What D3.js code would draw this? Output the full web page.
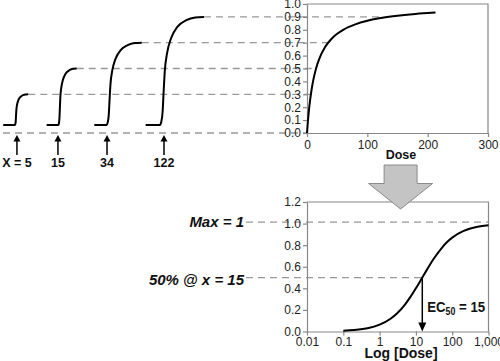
<!DOCTYPE html>
<html><head><meta charset="utf-8">
<script src="https://cdn.jsdelivr.net/npm/d3@7/dist/d3.min.js"></script>
<style>
body{margin:0;background:#fff;}
svg{display:block;font-family:"Liberation Sans",Arial,sans-serif;}
</style></head><body>
<svg id="c" width="500" height="361"></svg>
<script>
// ---- data ----
const topDose = [0,1,2,3,5,7,10,15,20,30,40,50,60,80,100,125,150,175,200,213];
const topResp = [0,0.062,0.118,0.167,0.25,0.318,0.4,0.5,0.571,0.667,0.727,0.769,0.8,0.842,0.87,0.893,0.909,0.921,0.93,0.934];
const topXTicks = [0,100,200,300];
const topYTicks = [0,0.1,0.2,0.3,0.4,0.5,0.6,0.7,0.8,0.9,1.0];

const logDose = [0.1,0.2,0.5,1,2,3,5,7,10,15,20,30,50,70,100,200,300,500,1000];
const logResp = [0.007,0.013,0.032,0.063,0.118,0.167,0.25,0.318,0.4,0.5,0.571,0.667,0.769,0.824,0.87,0.93,0.952,0.971,0.985];
const logXTicks = [0.01,0.1,1,10,100,1000];
const logXLabels = ["0.01","0.1","1","10","100","1,000"];
const logYTicks = [0,0.2,0.4,0.6,0.8,1.0,1.2];

// small time-course curves (panel time units)
const smallLabels = ["X = 5","15","34","122"];
const smallDose   = [5,15,34,122];
const smallLevel  = [0.3,0.5,0.7,0.9];
const smallStart  = [0.1,21.6,45.2,70.6];
const smallCorner = [5.9,27.4,51.3,77.7];
const smallEnd    = [12.5,36.5,68.7,99.5];
const smallArrow  = [6.9,27.2,51.5,79.7];
const smallBase = 0.062;
// normalized rise shape
const riseU = [0,0.03,0.06,0.085,0.11,0.16,0.25,0.4,0.6,0.8,1];
const riseV = [0,0.03,0.12,0.32,0.5,0.66,0.8,0.91,0.97,0.995,1];

const maxValue = 1.0, ec50 = 15, halfValue = 0.5;

// ---- drawing ----
const svg = d3.select("#c");
const gray = "#999";
const dash = "7,5";
const FONT = "'Liberation Sans',Arial,sans-serif";

// top chart scales
const x1 = d3.scaleLinear().domain([0,300]).range([307,488]);
const y1 = d3.scaleLinear().domain([0,1]).range([133,4]);
// left panel time scale
const tS = d3.scaleLinear().domain([0,100]).range([3,205]);
// bottom chart
const x2 = d3.scaleLog().domain([0.01,1000]).range([307,488.5]);
const y2 = d3.scaleLinear().domain([0,1.2]).range([331.5,202]);

function styleAxis(g){
  g.attr("font-size",12).attr("font-family",FONT);
  g.selectAll("path,line").attr("stroke","#888").attr("stroke-width",1.2);
  g.selectAll("text").attr("fill","#222");
}

// dashed guides (top)
const guides = svg.append("g").attr("stroke",gray).attr("stroke-width",1.3).attr("stroke-dasharray",dash).attr("fill","none");
guides.append("line").attr("x1",tS(0)).attr("x2",x1(0)).attr("y1",y1(0)).attr("y2",y1(0));
smallLevel.forEach((lv,i)=>{
  guides.append("line").attr("x1",tS(smallEnd[i])).attr("x2",x1(smallDose[i])).attr("y1",y1(lv)).attr("y2",y1(lv));
});
// dashed guides (bottom)
guides.append("line").attr("x1",246).attr("x2",x2(1000)).attr("y1",y2(maxValue)-1.5).attr("y2",y2(maxValue)-1.5);
guides.append("line").attr("x1",246).attr("x2",x2(ec50)).attr("y1",y2(halfValue)).attr("y2",y2(halfValue));

// axes top
svg.append("g").attr("transform",`translate(0,${y1(0)})`)
  .call(d3.axisBottom(x1).tickValues(topXTicks).tickSize(4).tickPadding(3).tickSizeOuter(0)).call(styleAxis);
svg.append("g").attr("transform",`translate(${x1(0)},0)`)
  .call(d3.axisLeft(y1).tickValues(topYTicks).tickFormat(d3.format(".1f")).tickSize(4).tickPadding(2).tickSizeOuter(0)).call(styleAxis);
svg.append("path").attr("d",`M${x1(0)},${y1(1)}H${x1(300)}V${y1(0)}`).attr("fill","none").attr("stroke","#888").attr("stroke-width",1.2);

// axes bottom
svg.append("g").attr("transform",`translate(0,${y2(0)})`)
  .call(d3.axisBottom(x2).tickValues(logXTicks).tickFormat((d,i)=>logXLabels[i]).tickSize(4).tickPadding(2).tickSizeOuter(0)).call(styleAxis);
svg.append("g").attr("transform",`translate(${x2(0.01)},0)`)
  .call(d3.axisLeft(y2).tickValues(logYTicks).tickFormat(d3.format(".1f")).tickSize(4).tickPadding(2).tickSizeOuter(0)).call(styleAxis);
svg.append("path").attr("d",`M${x2(0.01)},${y2(1.2)}H${x2(1000)}V${y2(0)}`).attr("fill","none").attr("stroke","#888").attr("stroke-width",1.2);

// top curve
const line1 = d3.line().x((d,i)=>x1(topDose[i])).y((d,i)=>y1(topResp[i])).curve(d3.curveMonotoneX);
svg.append("path").attr("d",line1(topDose)).attr("fill","none").attr("stroke","#000").attr("stroke-width",2);

// bottom curve
const line2 = d3.line().x((d,i)=>x2(logDose[i])).y((d,i)=>y2(logResp[i])).curve(d3.curveMonotoneX);
svg.append("path").attr("d",line2(logDose)).attr("fill","none").attr("stroke","#000").attr("stroke-width",2);

// small curves
const sLine = d3.line().x(d=>d[0]).y(d=>d[1]).curve(d3.curveMonotoneX);
smallLevel.forEach((lv,i)=>{
  const pts = [[tS(smallStart[i]),y1(smallBase)]];
  riseU.forEach((u,j)=>{
    pts.push([tS(smallCorner[i]+u*(smallEnd[i]-smallCorner[i])), y1(smallBase+(lv-smallBase)*riseV[j])]);
  });
  svg.append("path").attr("d",sLine(pts)).attr("fill","none").attr("stroke","#000").attr("stroke-width",2);
  const ax = tS(smallArrow[i]);
  svg.append("line").attr("x1",ax).attr("x2",ax).attr("y1",155).attr("y2",139).attr("stroke","#000").attr("stroke-width",1.5);
  svg.append("path").attr("d",`M${ax},135L${ax-3.5},141.5L${ax+3.5},141.5Z`).attr("fill","#000");
  svg.append("text").attr("x",ax).attr("y",167).attr("text-anchor","middle")
    .attr("font-size",12.5).attr("font-weight","bold").attr("fill","#111").text(smallLabels[i]);
});

// axis titles
svg.append("text").attr("x",401).attr("y",159).attr("text-anchor","middle").attr("font-size",12.5).attr("font-weight","bold").attr("fill","#111").text("Dose");
svg.append("text").attr("x",401).attr("y",358).attr("text-anchor","middle").attr("font-size",14).attr("font-weight","bold").attr("fill","#111").text("Log [Dose]");

// big gray arrow
const cx = 400.6;
svg.append("path").attr("d",`M${cx-16.5},165H${cx+16.5}V183.5H${cx+32}L${cx},209L${cx-32},183.5H${cx-16.5}Z`)
  .attr("fill","#c4c4c4").attr("stroke","#8a8a8a").attr("stroke-width",1);

// italic annotations
svg.append("text").attr("x",244).attr("y",227).attr("text-anchor","end").attr("font-size",15).attr("font-weight","bold").attr("font-style","italic").attr("fill","#111").text("Max = 1");
svg.append("text").attr("x",244).attr("y",285).attr("text-anchor","end").attr("font-size",15).attr("font-weight","bold").attr("font-style","italic").attr("fill","#111").text("50% @ x = 15");

// EC50 arrow
const ex = x2(ec50);
svg.append("line").attr("x1",ex).attr("x2",ex).attr("y1",y2(halfValue)).attr("y2",y2(0)-7).attr("stroke","#000").attr("stroke-width",1.5);
svg.append("path").attr("d",`M${ex},${y2(0)}L${ex-4},${y2(0)-9}L${ex+4},${y2(0)-9}Z`).attr("fill","#000");
const et = svg.append("text").attr("transform",`translate(${ex+5},311.5) scale(0.88,1)`).attr("font-size",15).attr("font-weight","bold").attr("fill","#111");
et.append("tspan").text("EC");
et.append("tspan").attr("font-size",10).attr("dy",3).text("50");
et.append("tspan").attr("dy",-3).text(" = 15");
</script></body></html>
